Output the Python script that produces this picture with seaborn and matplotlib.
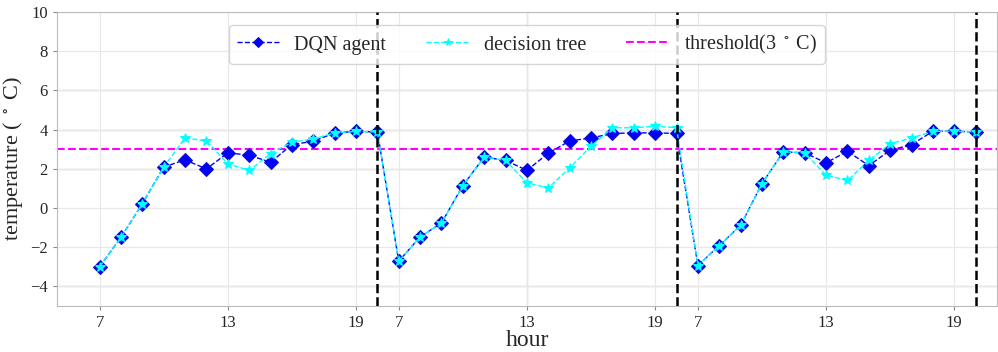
import numpy as np
import pandas as pd
import matplotlib
matplotlib.use("Agg")
import matplotlib.pyplot as plt
import seaborn as sns

# Three consecutive days, hours 7..20 each
hours = list(range(7, 21))
days = 3

dqn_temp = [
    -3.0, -1.5, 0.22, 2.09, 2.45, 1.99, 2.81, 2.69, 2.33, 3.23, 3.40, 3.83, 3.90, 3.88,
    -2.72, -1.48, -0.77, 1.14, 2.60, 2.42, 1.92, 2.79, 3.42, 3.57, 3.80, 3.83, 3.83, 3.80,
    -2.94, -1.92, -0.89, 1.24, 2.86, 2.81, 2.30, 2.89, 2.16, 2.94, 3.23, 3.91, 3.91, 3.88,
]
tree_temp = [
    -3.0, -1.5, 0.22, 2.09, 3.57, 3.42, 2.26, 1.91, 2.77, 3.35, 3.52, 3.83, 3.90, 3.88,
    -2.72, -1.48, -0.77, 1.14, 2.60, 2.42, 1.28, 1.02, 2.04, 3.15, 4.09, 4.09, 4.17, 4.10,
    -2.94, -1.92, -0.89, 1.24, 2.86, 2.81, 1.67, 1.40, 2.42, 3.27, 3.57, 3.91, 3.91, 3.88,
]
threshold = 3.0
tick_hours = [7, 13, 19]

step = np.arange(len(hours) * days)
df = pd.DataFrame({"step": step, "dqn": dqn_temp, "tree": tree_temp})

sns.set_style("white")
plt.rcParams["font.family"] = ["Liberation Serif", "DejaVu Serif"]
plt.rcParams["mathtext.fontset"] = "stix"

fig = plt.figure(figsize=(9.98, 3.52), dpi=100)
ax = fig.add_axes([0.057, 0.131, 0.942, 0.835])

# tick positions: chosen hours within each day
tick_pos = [d * len(hours) + hours.index(h) for d in range(days) for h in tick_hours]
tick_lab = [str(h) for d in range(days) for h in tick_hours]

ax.set_xlim(-2, 42)
ax.set_ylim(-5, 10)
ax.set_yticks(np.arange(-4, 11, 2))
ax.set_xticks(tick_pos)
ax.set_xticklabels(tick_lab)

ax.grid(True, color="#e8e8e8", linewidth=0.9, zorder=0)
for yv in [-4, 2, 4, 6]:
    ax.axhline(yv, color="#b9b9b9", linewidth=0.9, zorder=0.5)
ax.axvline(tick_pos[4], color="#b9b9b9", linewidth=0.9, zorder=0.5)

sns.lineplot(data=df, x="step", y="dqn", ax=ax, color="blue", linestyle="--",
             linewidth=1.0, marker="D", markersize=7, markerfacecolor="blue",
             markeredgecolor="#1010c0", label="DQN agent", zorder=3)
sns.lineplot(data=df, x="step", y="tree", ax=ax, color="cyan", linestyle="--",
             linewidth=1.0, marker="*", markersize=7, markerfacecolor="cyan",
             markeredgecolor="cyan", label="decision tree", zorder=4)
ax.axhline(threshold, color="magenta", linestyle="--", linewidth=1.5,
           label=r"threshold(3 $^\circ$ C)", zorder=2)

# end-of-day separators
for d in range(days):
    ax.axvline(d * len(hours) + len(hours) - 1, color="black", linestyle="--",
               linewidth=1.8, zorder=5)

ax.set_xlabel("hour", fontsize=17, labelpad=-1)
ax.set_ylabel(r"temperature ( $^\circ$ C)", fontsize=16, labelpad=4)
ax.tick_params(axis="both", labelsize=12, length=3, color="#888888", left=True, bottom=True)
for s in ax.spines.values():
    s.set_color("#bbbbbb")

ax.legend(loc="upper center", ncol=3, fontsize=14.5, frameon=True,
          bbox_to_anchor=(0.5, 0.99), handlelength=2.1, handletextpad=0.75,
          columnspacing=2.0, markerscale=0.8, edgecolor="#cccccc", fancybox=True)

fig.savefig("out.png", dpi=100)
